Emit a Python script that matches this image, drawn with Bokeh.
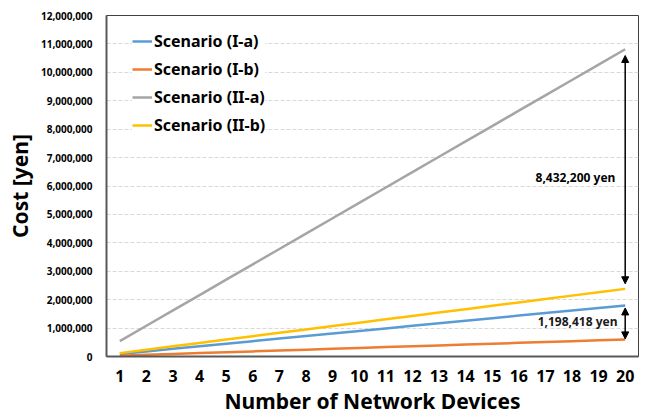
from bokeh.plotting import figure
from bokeh.models import (FixedTicker, NumeralTickFormatter, Range1d, Arrow, NormalHead,
                          Legend, LegendItem, Label)
from bokeh.embed import file_html
from bokeh.resources import INLINE

devices = list(range(1, 21))
scenario_1a = [89921, 179842, 269763, 359684, 449605, 539526, 629447, 719368, 809289, 899210,
               989131, 1079052, 1168973, 1258894, 1348815, 1438736, 1528657, 1618578, 1708499, 1798418]
scenario_1b = [30000, 60000, 90000, 120000, 150000, 180000, 210000, 240000, 270000, 300000,
               330000, 360000, 390000, 420000, 450000, 480000, 510000, 540000, 570000, 600000]
scenario_2a = [540610, 1081220, 1621830, 2162440, 2703050, 3243660, 3784270, 4324880, 4865490, 5406100,
               5946710, 6487320, 7027930, 7568540, 8109150, 8649760, 9190370, 9730980, 10271590, 10812200]
scenario_2b = [119000, 238000, 357000, 476000, 595000, 714000, 833000, 952000, 1071000, 1190000,
               1309000, 1428000, 1547000, 1666000, 1785000, 1904000, 2023000, 2142000, 2261000, 2380000]
names = ["Scenario (I-a)", "Scenario (I-b)", "Scenario (II-a)", "Scenario (II-b)"]
colors = ["#5B9BD5", "#ED7D31", "#A5A5A5", "#FFC000"]
y_ticks = [0, 1000000, 2000000, 3000000, 4000000, 5000000, 6000000, 7000000, 8000000,
           9000000, 10000000, 11000000, 12000000]
gap_big_label = "8,432,200 yen"
gap_small_label = "1,198,418 yen"

FONT = "Noto Sans"

p = figure(width=647, height=419, output_backend="svg", toolbar_location=None,
           x_range=Range1d(0.5, 20.5), y_range=Range1d(0, 12000000),
           min_border_left=106, min_border_right=9, min_border_top=15, min_border_bottom=63)
p.outline_line_color = "#404040"
p.outline_line_width = 1

p.xaxis.ticker = FixedTicker(ticks=devices)
p.yaxis.ticker = FixedTicker(ticks=y_ticks)
p.yaxis.formatter = NumeralTickFormatter(format="0,0")
p.xgrid.grid_line_color = None
p.ygrid.grid_line_color = "#D9D9D9"
p.ygrid.grid_line_dash = "4 2"
p.ygrid.grid_line_width = 1

for ax in (p.xaxis[0], p.yaxis[0]):
    ax.major_tick_line_color = None
    ax.minor_tick_line_color = None
    ax.major_tick_out = 0
    ax.major_tick_in = 0
    ax.minor_tick_out = 0
    ax.axis_line_color = "#595959"
    ax.axis_line_width = 2
    ax.major_label_text_font = FONT
    ax.major_label_text_font_style = "bold"
    ax.major_label_text_color = "black"
    ax.axis_label_text_font = FONT
    ax.axis_label_text_font_style = "bold"
    ax.axis_label_text_color = "black"
    ax.axis_label_text_font_size = "21px"

p.xaxis.major_label_text_font_size = "16px"
p.xaxis.major_label_standoff = 13
p.xaxis.axis_label = "Number of Network Devices"
p.xaxis.axis_label_standoff = 2
p.yaxis.major_label_text_font_size = "10px"
p.yaxis.major_label_standoff = 14
p.yaxis.axis_label = "Cost [yen]"
p.yaxis.axis_label_standoff = 4

renderers = []
for ys, c in zip([scenario_1a, scenario_1b, scenario_2a, scenario_2b], colors):
    r = p.line(devices, ys, line_color=c, line_width=2.5)
    renderers.append(r)

legend = Legend(items=[LegendItem(label=n, renderers=[r]) for n, r in zip(names, renderers)],
                location=(26, 220))
legend.border_line_color = None
legend.background_fill_color = "white"
legend.background_fill_alpha = 1
legend.label_text_font = FONT
legend.label_text_font_style = "bold"
legend.label_text_font_size = "16px"
legend.label_text_color = "black"
legend.glyph_width = 20
legend.glyph_height = 22
legend.label_height = 22
legend.spacing = 6
legend.padding = 10
legend.label_standoff = 2
p.add_layout(legend)

x_last = devices[-1]
head = dict(size=7, fill_color="black", line_color="black")
p.add_layout(Arrow(start=NormalHead(**head), end=NormalHead(**head),
                   x_start=x_last, y_start=scenario_2b[-1] + 180000,
                   x_end=x_last, y_end=scenario_2a[-1] - 220000,
                   line_color="black", line_width=1.5))
p.add_layout(Arrow(start=NormalHead(**head), end=NormalHead(**head),
                   x_start=x_last, y_start=scenario_1b[-1] + 20000,
                   x_end=x_last, y_end=scenario_1a[-1] - 90000,
                   line_color="black", line_width=1.5))

p.add_layout(Label(x=19.63, y=6300000, text=gap_big_label, text_align="right",
                   text_baseline="middle", text_font=FONT, text_font_style="bold",
                   text_font_size="12px", text_color="black"))
p.add_layout(Label(x=19.71, y=1220000, text=gap_small_label, text_align="right",
                   text_baseline="middle", text_font=FONT, text_font_style="bold",
                   text_font_size="12px", text_color="#1a1a1a"))

open("out.html", "w").write(file_html(p, INLINE))
